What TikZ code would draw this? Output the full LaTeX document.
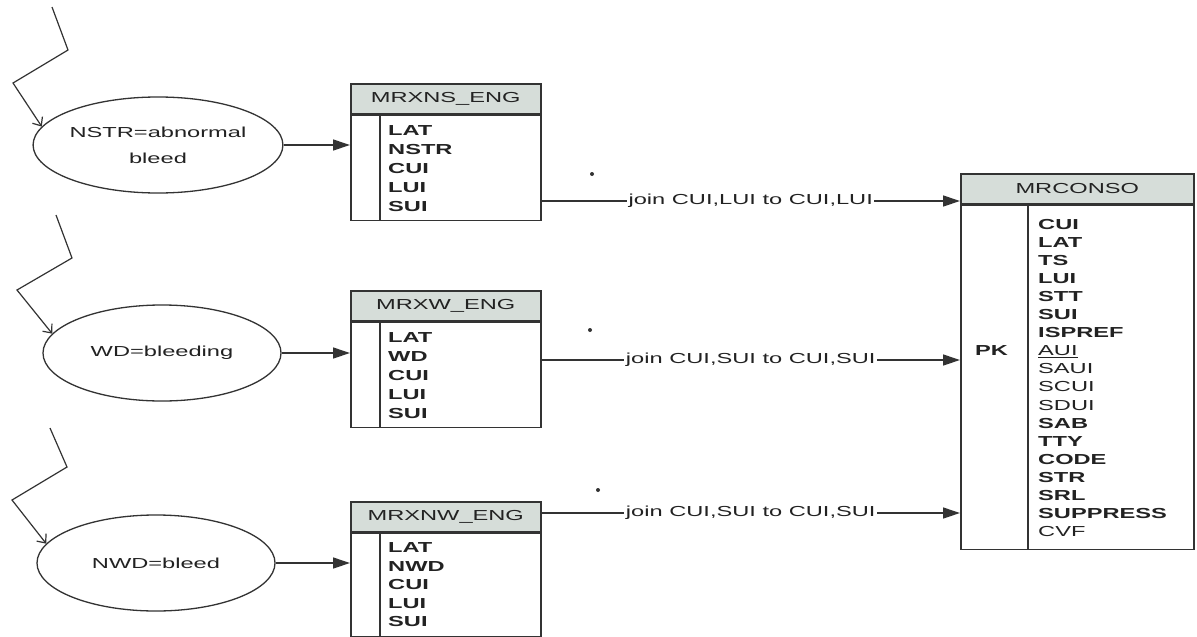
\documentclass[tikz,border=0pt]{standalone}
\usepackage{fontspec}
\setmainfont{Liberation Sans}
\usepackage{graphicx}
\usetikzlibrary{arrows.meta,calc,shapes.geometric}
\definecolor{ln}{HTML}{333333}
\definecolor{tx}{HTML}{222222}
\definecolor{hd}{HTML}{D6DDD9}
\newcommand{\sx}[1]{\scalebox{1.63}[1]{#1}}
\begin{document}
\begin{tikzpicture}[x=1pt,y=-1pt,
  ell/.style={ellipse, draw=ln, line width=1.3pt, minimum width=238pt, minimum height=96pt,
    inner sep=0pt, text=tx, font=\fontsize{14.5}{26}\selectfont, align=center},
  hdr/.style={rectangle, draw=ln, fill=hd, line width=1.5pt, minimum width=190pt,
    minimum height=30pt, anchor=north west, inner sep=0pt,
    font=\fontsize{14.5}{17}\selectfont, text=tx},
  tbody/.style={rectangle, draw=ln, line width=1.5pt, minimum width=190pt,
    anchor=north west, inner sep=0pt},
  fld/.style={anchor=base west, inner sep=0pt, text=tx},
  arr/.style={draw=ln, line width=1.3pt, -{Triangle[length=17pt,width=11pt]}},
  zig/.style={draw=ln, line width=1.2pt, -{Straight Barb[length=7pt,width=12pt]}},
  jl/.style={fill=white, inner sep=1.5pt, font=\fontsize{14.5}{17}\selectfont, text=tx}
]
\useasboundingbox[fill=white] (0,0) rectangle (1197,637);

% ellipses
\node[ell] (e1) at (158,145) {\sx{NSTR=abnormal}\\\sx{bleed}};
\node[ell] (e2) at (162,353) {\sx{WD=bleeding}};
\node[ell] (e3) at (156,563) {\sx{NWD=bleed}};

% zigzag arrows
\coordinate (z1) at (52,7);
\coordinate (z2) at (56,215);
\coordinate (z3) at (50,428);
\draw[zig] (z1) -- (68,50) -- (13,83) -- (e1.171);
\draw[zig] (z2) -- (72,258) -- (17,290) -- (e2.170);
\draw[zig] (z3) -- (67,467) -- (12,500) -- (e3.170);

% table 1
\node[hdr] (t1h) at (350,83) {\sx{MRXNS\_ENG}};
\node[tbody, minimum height=105pt] (t1b) at (t1h.south west) {};
\draw[draw=ln, line width=1.4pt] ($(t1b.north west)+(30,0)$) -- ($(t1b.south west)+(30,0)$);
\foreach \f [count=\i from 0] in {LAT,NSTR,CUI,LUI,SUI}
  \node[fld, font=\fontsize{14.5}{17}\selectfont\bfseries] at ($(t1b.north west)+(38,20.5+19*\i)$) {\sx{\f}};

% table 2
\node[hdr] (t2h) at (350,290) {\sx{MRXW\_ENG}};
\node[tbody, minimum height=105pt] (t2b) at (t2h.south west) {};
\draw[draw=ln, line width=1.4pt] ($(t2b.north west)+(30,0)$) -- ($(t2b.south west)+(30,0)$);
\foreach \f [count=\i from 0] in {LAT,WD,CUI,LUI,SUI}
  \node[fld, font=\fontsize{14.5}{17}\selectfont\bfseries] at ($(t2b.north west)+(38,20.5+19*\i)$) {\sx{\f}};

% table 3
\node[hdr] (t3h) at (350,501) {\sx{MRXNW\_ENG}};
\node[tbody, minimum height=103pt] (t3b) at (t3h.south west) {};
\draw[draw=ln, line width=1.4pt] ($(t3b.north west)+(30,0)$) -- ($(t3b.south west)+(30,0)$);
\foreach \f [count=\i from 0] in {LAT,NWD,CUI,LUI,SUI}
  \node[fld, font=\fontsize{14.5}{17}\selectfont\bfseries] at ($(t3b.north west)+(38,20+18.5*\i)$) {\sx{\f}};

% MRCONSO
\node[hdr, minimum width=233pt] (mch) at (960,173) {\sx{MRCONSO}};
\node[tbody, minimum width=233pt, minimum height=344pt] (mcb) at (mch.south west) {};
\draw[draw=ln, line width=1.4pt] ($(mcb.north west)+(68,0)$) -- ($(mcb.south west)+(68,0)$);
\foreach \i/\f/\s in {0/CUI/\bfseries,1/LAT/\bfseries,2/TS/\bfseries,3/LUI/\bfseries,
    4/STT/\bfseries,5/SUI/\bfseries,6/ISPREF/\bfseries,7/\underline{AUI}/\mdseries,
    8/SAUI/\mdseries,9/SCUI/\mdseries,10/SDUI/\mdseries,11/SAB/\bfseries,12/TTY/\bfseries,
    13/CODE/\bfseries,14/STR/\bfseries,15/SRL/\bfseries,16/SUPPRESS/\bfseries,17/CVF/\mdseries}
  \node[fld, font=\fontsize{14.5}{17}\selectfont\s] at ($(mcb.north west)+(78,24.5+18.1*\i)$) {\sx{\f}};
\node[fld, font=\fontsize{14.5}{17}\selectfont\bfseries] (pk) at ($(mcb.north west)+(15,24.5+18.1*7)$) {\sx{PK}};

% ellipse -> table arrows
\draw[arr] (e1.east) -- (e1.east -| t1b.west);
\draw[arr] (e2.east) -- (e2.east -| t2b.west);
\draw[arr] (e3.east) -- (e3.east -| t3b.west);

% joins
\coordinate (j1) at (540,201);
\coordinate (j2) at (540,360);
\coordinate (j3) at (540,513);
\draw[arr] (t1b.east |- j1) -- (mcb.west |- j1) node[jl, midway] {\sx{join CUI,LUI to CUI,LUI}};
\draw[arr] (t2b.east |- j2) -- (mcb.west |- j2) node[jl, midway] {\sx{join CUI,SUI to CUI,SUI}};
\draw[arr] (t3h.east |- j3) -- (mcb.west |- j3) node[jl, midway] {\sx{join CUI,SUI to CUI,SUI}};

% specks
\fill[ln] (592,174) circle (2pt);
\fill[ln] (590,330) circle (2pt);
\fill[ln] (598,490) circle (2pt);
\end{tikzpicture}
\end{document}
